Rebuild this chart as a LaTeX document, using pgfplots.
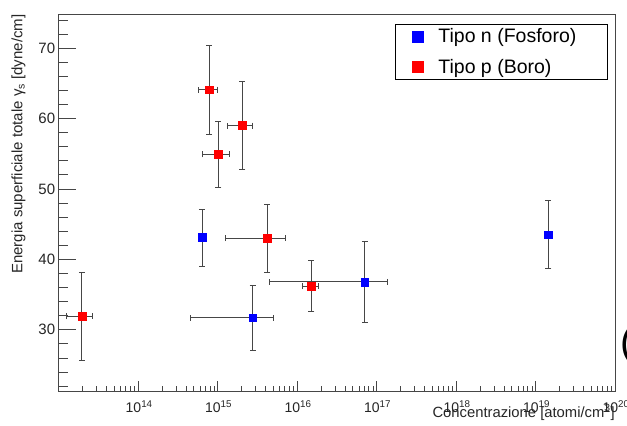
\documentclass[border=0pt]{standalone}
\usepackage{pgfplots}
\pgfplotsset{compat=1.18}
\usepackage{pgfplotstable}
\usepackage{fontspec}
\setmainfont{Liberation Sans}

\pgfplotstableread{
x y ex ey
6.35e14 43.1 0 4.05
2.76e15 31.7 2.3e15 4.65
7.1e16 36.8 6.65e16 5.7
1.45e19 43.5 0 4.8
}\tipon

\pgfplotstableread{
x y ex ey
1.96e13 31.9 0.7e13 6.3
7.8e14 64.1 2.0e14 6.3
1.02e15 54.9 3.8e14 4.7
2.04e15 59.0 0.7e15 6.2
4.2e15 43.0 2.95e15 4.8
1.51e16 36.2 0.36e16 3.6
}\tipop

\definecolor{axgray}{RGB}{70,70,70}

\begin{document}
\begin{tikzpicture}[x=1pt,y=1pt]
\fill[white] (0,0) rectangle (627,426);
\path[use as bounding box] (0,0) rectangle (627,426);
% overlay axis: long y ticks only
\begin{axis}[
  at={(58.7pt,34.3pt)}, anchor=south west,
  scale only axis, width=556.3pt, height=377.4pt,
  xmode=log, xmin=1e13, xmax=1e20, ymin=21.2, ymax=74.8,
  axis line style={draw=none},
  xtick=\empty, ytick={30,40,50,60,70}, yticklabels={},
  minor ytick={22,24,...,74},
  tick style={axgray, line width=0.8pt},
  tick pos=left, tick align=inside,
  major tick length=17pt, minor tick length=9pt,
]
\end{axis}
\begin{axis}[
  at={(58.7pt,34.3pt)}, anchor=south west,
  scale only axis, width=556.3pt, height=377.4pt,
  xmode=log, xmin=1e13, xmax=1e20, ymin=21.2, ymax=74.8,
  axis line style={axgray, line width=0.8pt},
  tick style={axgray, line width=0.8pt},
  tick pos=left, tick align=inside,
  major tick length=11pt, minor tick length=6pt,
  xtick={1e14,1e15,1e16,1e17,1e18,1e19,1e20},
  xticklabels={10\textsuperscript{14},10\textsuperscript{15},10\textsuperscript{16},10\textsuperscript{17},10\textsuperscript{18},10\textsuperscript{19},10\textsuperscript{20}},
  minor xtick={2e13,3e13,4e13,5e13,6e13,7e13,8e13,9e13,
    2e14,3e14,4e14,5e14,6e14,7e14,8e14,9e14,
    2e15,3e15,4e15,5e15,6e15,7e15,8e15,9e15,
    2e16,3e16,4e16,5e16,6e16,7e16,8e16,9e16,
    2e17,3e17,4e17,5e17,6e17,7e17,8e17,9e17,
    2e18,3e18,4e18,5e18,6e18,7e18,8e18,9e18,
    2e19,3e19,4e19,5e19,6e19,7e19,8e19,9e19},
  ytick={30,40,50,60,70},
  minor ytick={22,24,...,74},
  /pgf/number format/assume math mode=true,
  yticklabel style={font=\fontsize{15}{17}\selectfont, text=black!85},
  xticklabel style={font=\fontsize{14}{16}\selectfont, text=black!85, anchor=base, yshift=-20.8pt, xshift=1pt},
  xlabel={Concentrazione [atomi/cm\textsuperscript{3}]},
  xlabel style={at={([yshift=-25.3pt]rel axis cs:1,0)}, anchor=base east, inner sep=0pt, font=\fontsize{14.8}{17}\selectfont, text=black!85},
  ylabel={Energia superficiale totale γ\textsubscript{s} [dyne/cm]},
  ylabel style={at={([xshift=-33pt]rel axis cs:0,1)}, anchor=south east, inner sep=0pt, font=\fontsize{15}{17}\selectfont, text=black!85},
  legend style={at={(0.9868,0.9735)}, anchor=north east, draw=black, line width=0.6pt,
    font=\fontsize{19.5}{22}\selectfont, inner xsep=17pt, inner ysep=2pt, row sep=11pt,
    nodes={inner sep=2pt}, column sep=12.8pt},
  legend cell align=left,
  legend image post style={mark size=5.5pt},
  error bars/error bar style={axgray, line width=0.9pt},
  error bars/error mark options={axgray, line width=0.9pt, mark size=3pt, rotate=90},
]
\addplot[only marks, mark=square*, mark size=3.9pt, mark options={draw=blue, fill=blue},
  error bars/.cd, x dir=both, x explicit, y dir=both, y explicit]
  table[x=x, y=y, x error=ex, y error=ey]{\tipon};
\addlegendentry{Tipo n (Fosforo)\hspace*{12pt}}
\addplot[only marks, mark=square*, mark size=3.9pt, mark options={draw=red, fill=red},
  error bars/.cd, x dir=both, x explicit, y dir=both, y explicit]
  table[x=x, y=y, x error=ex, y error=ey]{\tipop};
\addlegendentry{Tipo p (Boro)}
\end{axis}
\node[anchor=base west, inner sep=0pt, font=\fontsize{40}{40}\selectfont] at (620,70) {(};
\end{tikzpicture}
\end{document}
